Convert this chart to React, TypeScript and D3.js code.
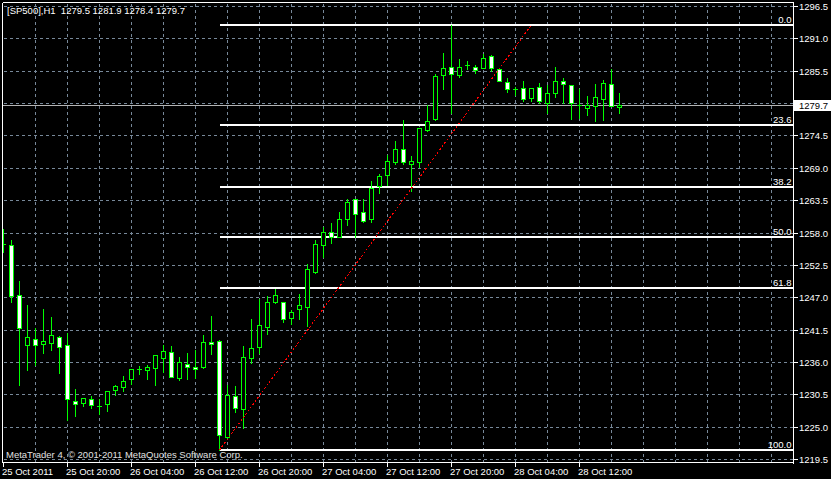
import React from 'react';
import * as d3 from 'd3';

const W = 831;
const H = 479;

const symbolTitle = '[SP500],H1';
const headerValues = [1279.5, 1281.9, 1278.4, 1279.7];
const copyright = 'MetaTrader 4, \u00A9 2001-2011 MetaQuotes Software Corp.';

const opens = [
  1256.2, 1255.9, 1247.4, 1239.0, 1239.9, 1239.1, 1239.3, 1240.4, 1239.0, 1229.4,
  1229.1, 1229.7, 1228.6, 1229.0, 1231.3, 1231.8, 1233.1, 1234.9, 1234.7, 1235.0,
  1236.8, 1237.8, 1233.4, 1235.8, 1235.3, 1235.2, 1239.5, 1239.7, 1223.4, 1230.3,
  1228.0, 1236.7, 1238.7, 1242.1, 1246.2, 1246.3, 1243.5, 1245.0, 1245.5, 1251.4,
  1255.9, 1258.2, 1257.4, 1260.4, 1263.7, 1261.6, 1260.4, 1266.0, 1267.9, 1270.1,
  1272.3, 1269.8, 1270.1, 1275.5, 1277.3, 1284.9, 1286.3, 1284.9, 1286.6, 1286.3,
  1286.1, 1288.1, 1285.9, 1283.7, 1282.4, 1282.7, 1281.0, 1282.9, 1280.1, 1281.8,
  1283.9, 1283.2, 1279.8, 1279.3, 1279.6, 1280.7, 1283.4, 1279.5,
];
const highs = [
  1258.7, 1256.9, 1250.0, 1245.9, 1242.0, 1245.2, 1243.8, 1240.6, 1241.1, 1231.6,
  1230.1, 1230.4, 1229.9, 1231.2, 1232.3, 1233.8, 1234.8, 1235.5, 1235.6, 1237.2,
  1239.0, 1238.9, 1237.0, 1237.7, 1238.2, 1240.8, 1244.0, 1239.9, 1232.2, 1232.0,
  1238.9, 1243.5, 1246.9, 1247.4, 1248.6, 1246.3, 1245.0, 1247.7, 1252.8, 1256.9,
  1259.1, 1259.8, 1261.6, 1263.8, 1263.7, 1263.8, 1266.9, 1268.1, 1271.3, 1273.7,
  1277.3, 1271.1, 1275.9, 1279.8, 1285.1, 1288.6, 1293.4, 1287.6, 1287.3, 1286.6,
  1288.5, 1288.3, 1286.1, 1284.4, 1282.9, 1283.9, 1282.7, 1283.5, 1283.2, 1286.3,
  1284.4, 1283.2, 1282.5, 1281.3, 1283.4, 1284.1, 1285.9, 1281.9,
];
const lows = [
  1254.8, 1246.3, 1232.3, 1234.8, 1235.7, 1237.7, 1238.2, 1234.3, 1226.3, 1226.9,
  1228.6, 1228.4, 1227.4, 1227.9, 1230.6, 1231.3, 1232.4, 1234.2, 1233.3, 1232.2,
  1234.4, 1233.6, 1233.1, 1233.2, 1233.5, 1235.2, 1237.6, 1221.2, 1223.1, 1227.7,
  1224.9, 1236.0, 1237.7, 1241.0, 1246.2, 1242.9, 1242.7, 1243.5, 1242.2, 1251.3,
  1254.0, 1256.4, 1257.4, 1259.4, 1257.4, 1259.9, 1259.9, 1264.9, 1266.2, 1269.8,
  1269.8, 1265.2, 1269.3, 1275.5, 1277.3, 1282.6, 1278.4, 1284.6, 1285.9, 1285.2,
  1286.1, 1285.7, 1283.9, 1282.1, 1281.5, 1280.6, 1280.6, 1280.1, 1278.4, 1281.2,
  1280.1, 1277.5, 1277.6, 1278.2, 1277.1, 1277.3, 1279.6, 1278.4,
];
const closes = [
  1256.2, 1247.3, 1241.9, 1240.4, 1239.0, 1239.7, 1240.7, 1238.6, 1229.7, 1229.0,
  1230.0, 1228.7, 1228.6, 1231.2, 1232.0, 1232.9, 1234.8, 1234.9, 1235.3, 1237.2,
  1238.0, 1233.6, 1236.0, 1235.2, 1234.9, 1239.4, 1239.2, 1223.7, 1230.4, 1228.3,
  1237.0, 1238.5, 1242.3, 1246.3, 1247.4, 1243.3, 1244.5, 1245.7, 1251.8, 1256.2,
  1258.2, 1257.4, 1260.4, 1263.3, 1261.3, 1260.1, 1265.7, 1267.7, 1270.3, 1272.2,
  1270.1, 1270.3, 1275.9, 1277.1, 1284.7, 1286.1, 1285.1, 1286.3, 1286.6, 1285.7,
  1287.8, 1286.1, 1283.9, 1282.4, 1282.4, 1280.8, 1282.7, 1280.5, 1281.8, 1283.9,
  1283.4, 1280.1, 1279.8, 1279.8, 1281.2, 1283.5, 1279.6, 1279.7,
];

const xTickBars = [0, 8, 16, 24, 32, 40, 48, 56, 64, 72];
const xTickLabels = [
  '25 Oct 2011', '25 Oct 20:00', '26 Oct 04:00', '26 Oct 12:00', '26 Oct 20:00',
  '27 Oct 04:00', '27 Oct 12:00', '27 Oct 20:00', '28 Oct 04:00', '28 Oct 12:00',
];
const yTicks = [
  1296.5, 1291.0, 1285.5, 1280.0, 1274.5, 1269.0, 1263.5, 1258.0, 1252.5, 1247.0,
  1241.5, 1236.0, 1230.5, 1225.0, 1219.5,
];
const fibLevels = [0, 23.6, 38.2, 50, 61.8, 100];
const fibHigh = 1293.4;
const fibLow = 1221.1;
const fibStartBar = 27;
const fibEndBar = 66;
const lastPrice = 1279.7;

const FONT = "'Liberation Sans', Arial, sans-serif";
const FS = 9.5;
const LIME = '#00ff00';
const GRID = '#778899';

const plotLeft = 2.5;
const plotRight = 793.5;
const plotTop = 2.5;
const plotBottom = 462.5;

export default function App() {
  const x = d3.scaleLinear().domain([0, 77]).range([3.5, 3.5 + 77 * 8]);
  const y = d3.scaleLinear().domain([1219.5, 1296.5]).range([459.5, 6.5]);
  const crisp = (v: number) => Math.floor(v) + 0.5;
  const fmt = d3.format('.1f');

  const vGridBars = d3.range(4, 120, 4).filter((b) => x(b) < plotRight - 2);

  const candles = opens.map((o, i) => ({ o, h: highs[i], l: lows[i], c: closes[i], i }));

  const fibY = (lvl: number) => y(fibHigh - (lvl / 100) * (fibHigh - fibLow));
  const priceY = crisp(y(lastPrice));

  return (
    <svg
      width={W}
      height={H}
      style={{ position: 'absolute', left: 0, top: 0, display: 'block', background: '#000' }}
      fontFamily={FONT}
      fontSize={FS}
    >
      <defs>
        <clipPath id="plotClip">
          <rect x={3} y={3} width={plotRight - 3.5} height={plotBottom - 3.5} />
        </clipPath>
      </defs>
      <rect x={0} y={0} width={W} height={H} fill="#000" />

      {/* grid */}
      <g stroke={GRID} strokeWidth={1} strokeDasharray="3 3" shapeRendering="crispEdges">
        {yTicks.map((t) => (
          <line key={'hg' + t} x1={plotLeft + 1} x2={plotRight} y1={crisp(y(t))} y2={crisp(y(t))} />
        ))}
        {vGridBars.map((b) => (
          <line key={'vg' + b} x1={x(b)} x2={x(b)} y1={plotTop + 1} y2={plotBottom} />
        ))}
      </g>

      {/* current price line */}
      <line
        x1={plotLeft}
        x2={plotRight}
        y1={priceY}
        y2={priceY}
        stroke="#b4b4b4"
        strokeWidth={1}
        shapeRendering="crispEdges"
      />

      {/* fibonacci levels */}
      <g>
        {fibLevels.map((lvl) => {
          const yy = Math.round(fibY(lvl));
          return (
            <g key={'fib' + lvl}>
              <line
                x1={x(fibStartBar)}
                x2={plotRight}
                y1={yy}
                y2={yy}
                stroke="#ffffff"
                strokeWidth={2}
                shapeRendering="crispEdges"
              />
              <text x={791.5} y={yy - 2} textAnchor="end" fill="#ffffff">
                {fmt(lvl)}
              </text>
            </g>
          );
        })}
      </g>

      {/* candles */}
      <g clipPath="url(#plotClip)" shapeRendering="crispEdges">
        {candles.map((d) => {
          const cx = x(d.i);
          const yo = Math.round(y(d.o));
          const yc = Math.round(y(d.c));
          const top = Math.min(yo, yc);
          const bot = Math.max(yo, yc);
          const bear = d.c < d.o;
          return (
            <g key={'c' + d.i}>
              <line x1={cx} x2={cx} y1={crisp(y(d.h))} y2={crisp(y(d.l)) + 1} stroke={LIME} strokeWidth={1} />
              {bot - top < 1 ? (
                <line x1={cx - 2.5} x2={cx + 2.5} y1={top + 0.5} y2={top + 0.5} stroke={LIME} strokeWidth={1} />
              ) : (
                <rect
                  x={cx - 2}
                  y={top + 0.5}
                  width={4}
                  height={bot - top}
                  fill={bear ? '#ffffff' : '#000000'}
                  stroke={LIME}
                  strokeWidth={1}
                />
              )}
            </g>
          );
        })}
      </g>

      {/* fib trend line */}
      <line
        x1={x(fibStartBar)}
        y1={fibY(100)}
        x2={x(fibEndBar)}
        y2={fibY(0)}
        stroke="#ff0000"
        strokeWidth={1}
        strokeDasharray="2 2"
        shapeRendering="crispEdges"
      />

      {/* borders */}
      <g stroke="#ffffff" strokeWidth={1} fill="none" shapeRendering="crispEdges">
        <line x1={plotLeft} x2={plotRight} y1={plotTop} y2={plotTop} />
        <line x1={plotLeft} x2={plotLeft} y1={plotTop} y2={plotBottom} />
        <line x1={plotRight} x2={plotRight} y1={plotTop} y2={plotBottom + 1} />
        <line x1={plotLeft} x2={plotRight} y1={plotBottom} y2={plotBottom} />
      </g>

      {/* x axis */}
      <g>
        {xTickBars.map((b, i) => (
          <g key={'xt' + b}>
            <line
              x1={x(b)}
              x2={x(b)}
              y1={plotBottom}
              y2={plotBottom + 4}
              stroke="#ffffff"
              shapeRendering="crispEdges"
            />
            <text x={x(b) - 1.5} y={475} fill="#ffffff">
              {xTickLabels[i]}
            </text>
          </g>
        ))}
      </g>

      {/* y axis */}
      <g>
        {yTicks.map((t) => {
          const ty = crisp(y(t));
          const hidden = Math.abs(ty - priceY) < 9;
          return (
            <g key={'yt' + t}>
              <line
                x1={plotRight}
                x2={plotRight + 4}
                y1={ty}
                y2={ty}
                stroke="#ffffff"
                shapeRendering="crispEdges"
              />
              {!hidden && (
                <text x={799} y={ty} dy="0.35em" fill="#ffffff">
                  {fmt(t)}
                </text>
              )}
            </g>
          );
        })}
      </g>

      {/* last price box */}
      <rect x={794} y={priceY - 5.5} width={37} height={11} fill="#ffffff" />
      <text x={799} y={priceY} dy="0.35em" fill="#000000">
        {fmt(lastPrice)}
      </text>

      {/* header */}
      <text x={7} y={14} fill="#ffffff" xmlSpace="preserve">
        {symbolTitle + '  ' + headerValues.map((v) => fmt(v)).join(' ')}
      </text>

      {/* copyright */}
      <text x={6} y={457.5} fill="#e0e0e0">
        {copyright}
      </text>
    </svg>
  );
}
